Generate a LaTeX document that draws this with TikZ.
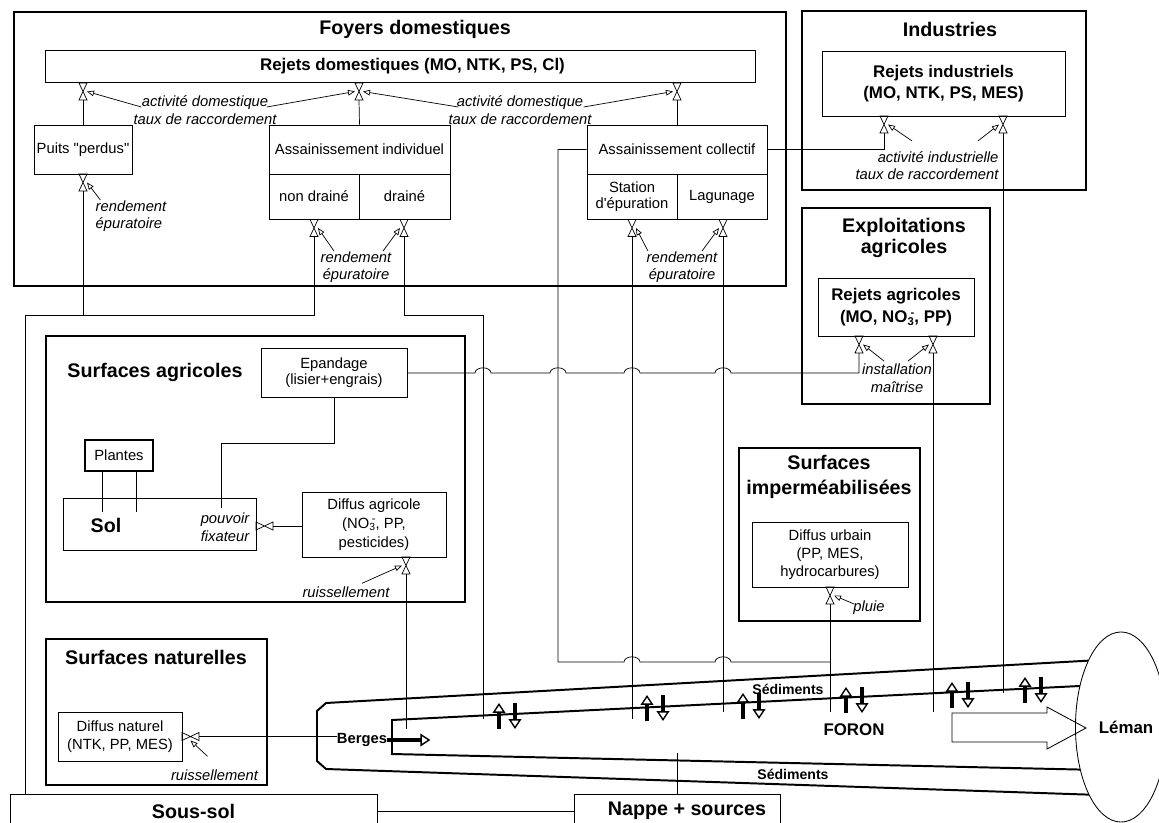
\documentclass[tikz,border=0pt]{standalone}
\usepackage{fontspec}
\setmainfont{Liberation Sans}
\usetikzlibrary{arrows.meta,calc,positioning,shapes.geometric}

\newcommand{\nitrate}{NO\textsubscript{3}\llap{\raisebox{0.7ex}{\fontsize{8}{8}\selectfont -}}}
\newcommand{\vvalve}[2]{%
  \node[valve] (#1) at (#2) {};
  \draw[conn] (#1.north west)--(#1.north east)--(#1.south west)--(#1.south east)--cycle;}
\newcommand{\hvalve}[2]{%
  \node[valve,minimum width=0.425cm,minimum height=0.2cm] (#1) at (#2) {};
  \draw[conn] (#1.north west)--(#1.south west)--(#1.north east)--(#1.south east)--cycle;}

\tikzset{
  groupbox/.style={line width=1.5pt},
  box/.style={draw,line width=0.6pt,inner sep=0pt,align=center,font=\fontsize{10.5}{13}\selectfont},
  rej/.style={box,font=\fontsize{12}{15}\selectfont\bfseries},
  grouptitle/.style={font=\fontsize{14}{15}\selectfont\bfseries,align=center,inner sep=0pt},
  param/.style={font=\fontsize{10.5}{12.5}\selectfont\itshape,align=center,inner sep=0pt},
  valve/.style={minimum width=0.2cm,minimum height=0.425cm,inner sep=0pt,outer sep=0pt},
  conn/.style={line width=0.5pt},
  paramarrow/.style={conn,-{Triangle[open,length=5pt,width=4pt]}},
  hop/.style={insert path={arc[start angle=180,end angle=0,x radius=0.2cm,y radius=0.13cm]}},
  flux/.style={line width=2.6pt,-{Triangle[open,length=7pt,width=9pt,line width=1pt]}},
  sed/.style={font=\fontsize{10}{12}\selectfont\bfseries,inner sep=0pt},
  riv/.style={font=\fontsize{12}{14}\selectfont\bfseries,inner sep=0pt},
}

\begin{document}
\begin{tikzpicture}[x=0.025cm,y=-0.025cm]
  \useasboundingbox (0,0) rectangle (1159,823);

  % Foyers domestiques
  \draw[groupbox] (14,12) rectangle (786,286);
  \node[grouptitle] (tFoy) at (415,29) {Foyers domestiques};
  \node[rej,minimum width=17.725cm,minimum height=0.8cm] (rejdom) at (400.5,66) {\hspace*{0.6cm}Rejets domestiques (MO, NTK, PS, Cl)};
  \node[box,minimum width=2.45cm,minimum height=1.225cm] (puits) at (83,149.5) {Puits \textquotedbl perdus\textquotedbl};
  \node[box,minimum width=4.525cm,minimum height=1.225cm] (assind) at (359.5,149.5) {Assainissement individuel};
  \node[box,minimum width=2.25cm,minimum height=1.125cm] (nondr) at (314,196.5) {non drainé};
  \node[box,minimum width=2.275cm,minimum height=1.125cm] (drain) at (404.5,196.5) {drainé};
  \node[box,minimum width=4.5cm,minimum height=1.225cm] (asscol) at (677,149.5) {Assainissement collectif};
  \node[box,minimum width=2.25cm,minimum height=1.125cm,font=\fontsize{10.5}{11.5}\selectfont] (station) at (632,196.5) {Station\\d\textquotesingle épuration};
  \node[box,minimum width=2.25cm,minimum height=1.125cm] (lagun) at (722,196.5) {Lagunage};
  \vvalve{vA}{83,91.5}
  \vvalve{vB}{359,91.5}
  \vvalve{vC}{677,91.5}
  \vvalve{vP}{83,182.5}
  \vvalve{vN}{314,228}
  \vvalve{vD}{404,228}
  \vvalve{vS}{632,228}
  \vvalve{vL}{723,228}
  \node[param] (labA) at (205,110) {activité domestique\\taux de raccordement};
  \node[param] (labB) at (520,110) {activité domestique\\taux de raccordement};
  \node[param,align=left] (labP) at (131,216) {rendement\\épuratoire};
  \node[param] (labN) at (356,267) {rendement\\épuratoire};
  \node[param] (labS) at (682,267) {rendement\\épuratoire};

  % Industries
  \draw[groupbox] (802,11) rectangle (1086,190);
  \node[grouptitle] (tInd) at (950,29) {Industries};
  \node[rej,minimum width=6.075cm,minimum height=1.625cm] (rejind) at (943.5,83.5) {Rejets industriels\\(MO, NTK, PS, MES)};
  \vvalve{vI1}{884,124.5}
  \vvalve{vI2}{1003,124.5}
  \node[param,align=right] (labI) at (927,165.5) {activité industrielle\\taux de raccordement};

  % Exploitations agricoles
  \draw[groupbox] (802,208) rectangle (990,404);
  \node[grouptitle] (tExp) at (904,238) {Exploitations\\agricoles};
  \node[rej,minimum width=3.9cm,minimum height=1.45cm,font=\fontsize{12}{16}\selectfont\bfseries] (rejagr) at (896,307) {Rejets agricoles\\(MO, \nitrate, PP)};
  \vvalve{vR1}{859,344.5}
  \vvalve{vR2}{933,344.5}
  \node[param] (labR) at (897,378.5) {installation\\maîtrise};

  % Surfaces agricoles
  \draw[groupbox] (46,336) rectangle (465,602);
  \node[grouptitle] (tAgr) at (155,372) {Surfaces agricoles};
  \node[box,minimum width=3.65cm,minimum height=1.225cm,font=\fontsize{10.5}{11.5}\selectfont] (epand) at (334,373) {Epandage\\(lisier+engrais)};
  \node[box,line width=1.2pt,minimum width=1.7cm,minimum height=0.775cm] (plantes) at (119,455.5) {Plantes};
  \node[box,minimum width=4.825cm,minimum height=1.3cm] (sol) at (159.5,524) {};
  \node[grouptitle] (tSol) at (106,525) {Sol};
  \node[param,align=left] (pouv) at (225,527.5) {pouvoir\\fixateur};
  \node[box,minimum width=3.6cm,minimum height=1.625cm,font=\fontsize{10.5}{13.5}\selectfont] (difagr) at (374,524.5) {Diffus agricole\\(\nitrate, PP,\\pesticides)};
  \hvalve{hSol}{264.5,526}
  \vvalve{vDA}{406,565.5}
  \node[param] (labDA) at (346,592) {ruissellement};

  % Surfaces naturelles
  \draw[groupbox] (46,639) rectangle (267,785);
  \node[grouptitle] (tNat) at (156,657) {Surfaces naturelles};
  \node[box,minimum width=3.1cm,minimum height=1.225cm] (difnat) at (120,736.5) {Diffus naturel\\(NTK, PP, MES)};
  \hvalve{hNat}{190.5,736.5}
  \node[param] (labNat) at (214.5,775) {ruissellement};

  % Surfaces impermeabilisees
  \draw[groupbox] (739,448) rectangle (920,621);
  \node[grouptitle,font=\fontsize{14}{17.5}\selectfont\bfseries] (tImp) at (829,477) {Surfaces\\imperméabilisées};
  \node[box,minimum width=3.9cm,minimum height=1.625cm] (difurb) at (830,554.5) {Diffus urbain\\(PP, MES,\\hydrocarbures)};
  \vvalve{vU}{830,595.5}
  \node[param] (labU) at (869,608) {pluie};

  % Foron
  \draw[line width=1.4pt] (1100,660) -- (326,703) -- (317,711) -- (317,761) -- (326,769) -- (1100,795);
  \draw[line width=1.4pt] (1100,685) -- (392,720) -- (392,754) -- (1100,770);
  \node[ellipse,draw,fill=white,line width=0.6pt,minimum width=1.85cm,minimum height=4.75cm,inner sep=0pt,font=\fontsize{12}{14}\selectfont\bfseries] (leman) at (1121,727) {\hspace*{0.25cm}Léman};
  \draw[line width=0.6pt] (952,713) -- (1047,713) -- (1047,707) -- (1086,728) -- (1047,749) -- (1047,742) -- (952,742) -- cycle;
  \node[riv] (foron) at (854,730) {FORON};
  \node[sed] (sed1) at (788,689) {Sédiments};
  \node[sed] (sed2) at (793,774) {Sédiments};
  \node[sed,font=\fontsize{10.5}{12}\selectfont\bfseries] (berges) at (362,740) {Berges};
  \draw[flux] (berges.east) -- ++(43,0);
  \foreach \x/\y in {499/703,647/695,743/693,846/687,952/682,1025/677} {
    \draw[flux] (\x,\y+26) -- (\x,\y);
    \draw[flux] (\x+16,\y) -- (\x+16,\y+26);
  }

  % Sous-sol et nappe
  \node[grouptitle,draw,line width=0.6pt,minimum width=9.175cm,minimum height=0.85cm] (soussol) at (193.5,811) {Sous-sol};
  \node[grouptitle,draw,line width=0.6pt,minimum width=5.15cm,minimum height=0.85cm] (nappe) at (677,811) {\hspace*{0.5cm}Nappe + sources};

  % connexions
  \draw[conn] (puits.north) -- (vA.south);
  \draw[conn] (assind.north) -- (vB.south);
  \draw[conn] (asscol.north) -- (vC.south);
  \coordinate (jL) at (25,315);
  \draw[conn] (vN.south) |- (jL) -- (jL |- soussol.north);
  \draw[conn] (vP.south) -- (vP.south |- jL);
  \coordinate (eB) at (483,719);
  \draw[conn] (vD.south) |- (eB |- jL) -- (eB);
  \coordinate (jC) at (558,662);
  \coordinate (eU) at (830,712);
  \draw[conn] (asscol.west) -| (jC) -- (624,662) [hop] -- (715,662) [hop] -- (eU |- jC);
  \draw[conn] (vU.south) -- (eU);
  \draw[conn] (asscol.east) -| (vI1.south);
  \coordinate (eI) at (1003,693);
  \draw[conn] (vI2.south) -- (eI);
  \coordinate (eS) at (632,719);
  \draw[conn] (vS.south) -- (eS);
  \coordinate (eL) at (723,712);
  \draw[conn] (vL.south) -- (eL);
  \coordinate (eR) at (933,712);
  \draw[conn] (vR2.south) -- (eR);
  \draw[conn] (epand.east) -- (475,373) [hop] -- (550,373) [hop] -- (624,373) [hop] -- (715,373) [hop] -| (vR1.south);
  \coordinate (fS) at (221,508);
  \draw[conn] (epand.south) -- ++(0,45.5) -| (fS);
  \draw[conn] ([xshift=-0.425cm]plantes.south) -- ++(0,40);
  \draw[conn] ([xshift=0.425cm]plantes.south) -- ++(0,40);
  \draw[conn] (hSol.east -| difagr.west) -- (hSol.east);
  \coordinate (eA) at (406,729);
  \draw[conn] (vDA.south) -- (eA);
  \draw[conn] (hNat.east -| berges.west) -- (hNat.east);
  \coordinate (eN) at (677,753);
  \draw[conn] (nappe.north) -- (eN);
  \draw[conn] (soussol.east) -- (nappe.west);

  % parametres
  \draw[paramarrow] ([shift={(8,-3)}]labA.west) -- (vA.east);
  \draw[paramarrow] ([shift={(-10,-3)}]labA.east) -- (vB.west);
  \draw[paramarrow] ([shift={(10,-3)}]labB.west) -- (vB.east);
  \draw[paramarrow] ([shift={(-8,-3)}]labB.east) -- (vC.west);
  \draw[paramarrow] ([shift={(5,0)}]labP.north west) -- (vP.east);
  \draw[paramarrow] ([shift={(-22,0)}]labN.north) -- (vN.east);
  \draw[paramarrow] ([shift={(27,0)}]labN.north) -- (vD.west);
  \draw[paramarrow] ([shift={(-34,0)}]labS.north) -- (vS.east);
  \draw[paramarrow] ([shift={(20,0)}]labS.north) -- (vL.west);
  \draw[paramarrow] ([shift={(-15,-10)}]labI.north) -- (vI1.east);
  \draw[paramarrow] ([shift={(51,-10)}]labI.north) -- (vI2.west);
  \draw[paramarrow] ([shift={(-13,-3)}]labR.north) -- (vR1.east);
  \draw[paramarrow] ([shift={(11,-3)}]labR.north) -- (vR2.west);
  \draw[paramarrow] ([shift={(16,-3)}]labDA.north) -- (vDA.west);
  \draw[paramarrow] ([shift={(1,-4)}]labU.west) -- (vU.east);
  \draw[paramarrow] ([shift={(-7,-13)}]labNat.north) -- (hNat.south);
\end{tikzpicture}
\end{document}
